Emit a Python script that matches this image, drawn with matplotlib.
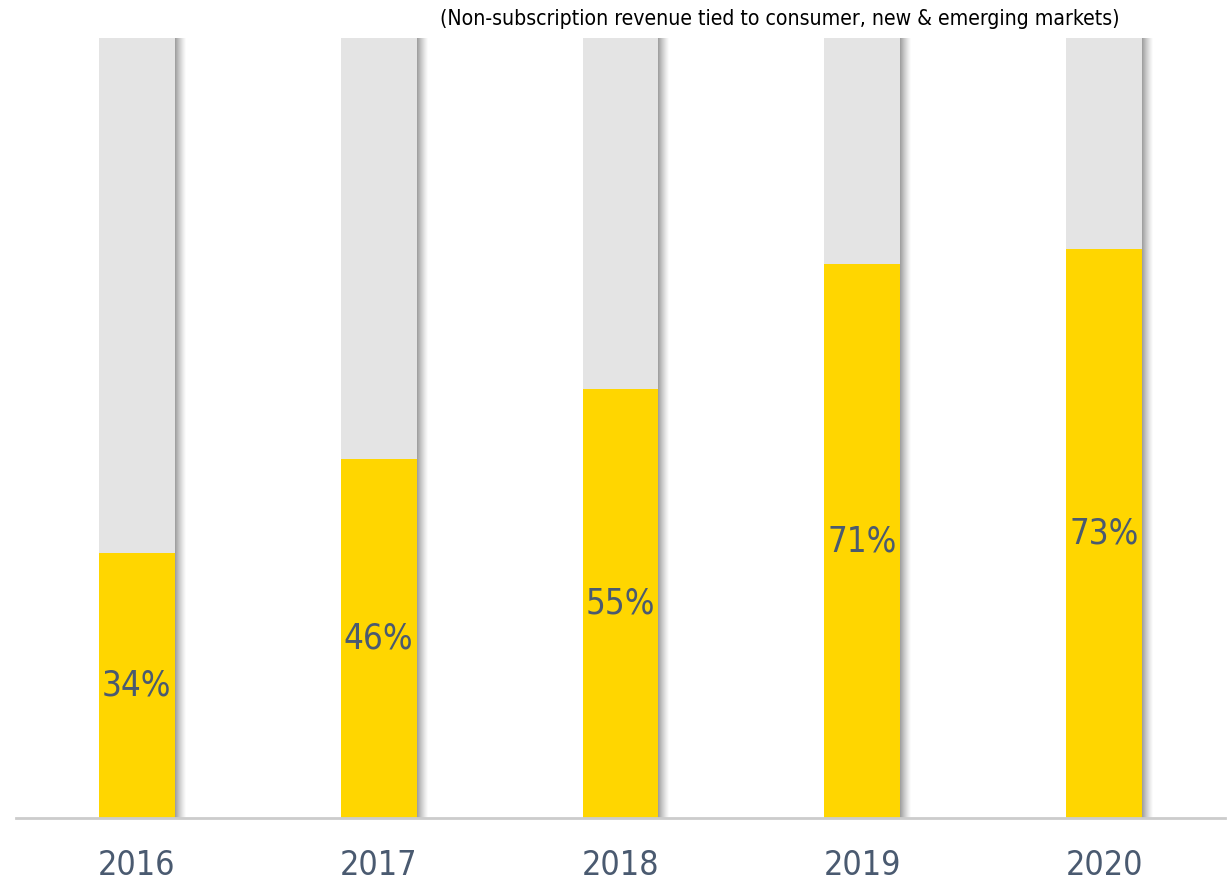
import matplotlib.pyplot as plt
import numpy as np

plt.rcParams['font.family'] = ['DejaVu Sans']
plt.rcParams['font.stretch'] = 'condensed'

years = ["2016", "2017", "2018", "2019", "2020"]
share = [34, 46, 55, 71, 73]
title = "(Non-subscription revenue tied to consumer, new & emerging markets)"

yellow = "#FFD600"
grey = "#E4E4E4"
text_col = "#4A5A70"

fig = plt.figure(figsize=(12.3, 8.82), dpi=100)
ax = fig.add_axes([16 / 1230, 64 / 882, 1209 / 1230, 780 / 882])

x = np.arange(len(years))
width = 76 / 242
px = 1 / 242

# soft shadow on the right of each bar
for i in range(11):
    a = 0.75 * (1 - i / 11) ** 1.3
    ax.bar(x + width / 2 + i * px + px / 2, [100] * len(x), width=px,
           color="#808080", alpha=a, linewidth=0, zorder=1)

rest = [100 - s for s in share]
ax.bar(x, share, width=width, color=yellow, linewidth=0, zorder=2)
ax.bar(x, rest, bottom=share, width=width, color=grey, linewidth=0, zorder=2)

for xi, s in zip(x, share):
    ax.text(xi, s / 2, f"{s}%", ha="center", va="center", fontsize=25,
            color=text_col, zorder=3)

ax.set_xlim(-0.5, 4.5)
ax.set_ylim(0, 100)
ax.set_xticks(x)
ax.set_xticklabels(years, fontsize=24.5, color=text_col)
ax.tick_params(axis="x", length=0, pad=22)
ax.set_yticks([])
for side in ["top", "right", "left"]:
    ax.spines[side].set_visible(False)
ax.spines["bottom"].set_color("#CCCCCC")
ax.spines["bottom"].set_linewidth(2)
ax.spines["bottom"].set_zorder(4)

fig.text(780 / 1230, 1 - 19 / 882, title, ha="center", va="center",
         fontsize=15.2, color="black")

fig.savefig("out.png", dpi=100)
